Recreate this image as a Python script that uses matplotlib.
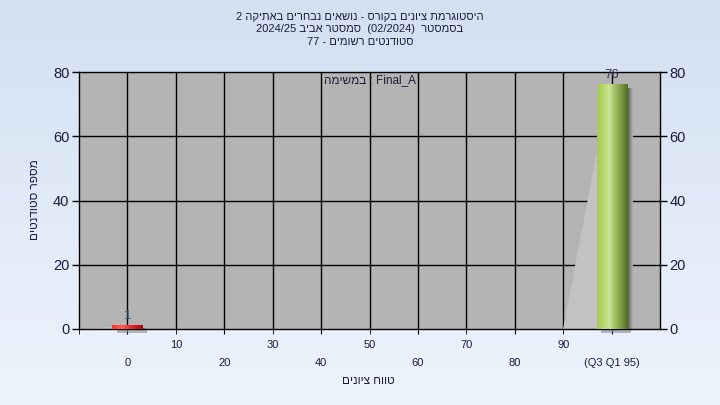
import re
import numpy as np
import matplotlib
matplotlib.use('Agg')
import matplotlib.pyplot as plt
from matplotlib.patches import Polygon, Rectangle
from matplotlib.colors import LinearSegmentedColormap

plt.rcParams['font.family'] = ['Liberation Sans', 'DejaVu Sans']

# ---------------- data ----------------
categories = ["0", "10", "20", "30", "40", "50", "60", "70", "80", "90", "(Q3 Q1 95)"]
counts = [1, 0, 0, 0, 0, 0, 0, 0, 0, 0, 76]
y_ticks = [0, 20, 40, 60, 80]
title_lines = [
    "היסטוגרמת ציונים בקורס - נושאים נבחרים באתיקה 2",
    "בסמסטר  (02/2024)  סמסטר אביב 2024/25",
    "סטודנטים רשומים - 77",
]
legend_text = "Final_A : במשימה"
x_label = "טווח ציונים"
y_label = "מספר סטודנטים"


def vis(s):
    """Convert a logical RTL string into visual (left-to-right) order."""
    r = s[::-1]
    r = re.sub(r'[A-Za-z0-9_/.]+', lambda m: m.group(0)[::-1], r)
    return r.translate(str.maketrans('()', ')('))


TXT = '#1c1c3c'
W, H = 720, 405
fig = plt.figure(figsize=(W / 100, H / 100), dpi=100)

# background gradient
bg = fig.add_axes([0, 0, 1, 1], zorder=-10)
bg_cmap = LinearSegmentedColormap.from_list('bg', ['#d3e0f2', '#eef4fd'])
bg.imshow(np.linspace(0, 1, 256).reshape(-1, 1), cmap=bg_cmap, aspect='auto',
          extent=[0, 1, 0, 1])
bg.set_axis_off()

x0, x1, y0, y1 = 79, 660, 72, 329
ax = fig.add_axes([x0 / W, 1 - y1 / H, (x1 - x0) / W, (y1 - y0) / H])
ax.set_facecolor('#b4b4b4')

n = len(categories)
pos = np.arange(1, n + 1)
ax.set_xlim(0, n + 1)
ax.set_ylim(0, 80)

# grid
ax.set_yticks(y_ticks)
ax.set_yticklabels([str(v) for v in y_ticks], fontsize=10.5, color=TXT)
for v in y_ticks[1:-1]:
    ax.axhline(v, color='black', lw=1, zorder=1)
for p in pos:
    ax.axvline(p, color='black', lw=1, zorder=1)

bw = 0.62
green = LinearSegmentedColormap.from_list('g', ['#a3cc4e', '#b6d870', '#cce59a', '#9ebb62', '#7a9640', '#4e6a26'])
red = LinearSegmentedColormap.from_list('r', ['#ff3030', '#ff5a5a', '#e02020', '#a80c0c'])
grad = np.linspace(0, 1, 128).reshape(1, -1)
shadow_cmap = LinearSegmentedColormap.from_list('s', ['#505050', '#b4b4b4'])

for i, (p, c) in enumerate(zip(pos, counts)):
    if c <= 0:
        continue
    left = p - bw / 2
    # light wedge reflection
    ax.add_patch(Polygon([[left - 0.69, 0], [left, 0], [left, c * 0.73]],
                         closed=True, facecolor='#c2c2c2', edgecolor='none', zorder=2))
    # right shadow
    ax.imshow(grad, cmap=shadow_cmap, aspect='auto',
              extent=[p + bw / 2, p + bw / 2 + 0.12, 0, max(c - 1.2, 0.3)], zorder=2.5)
    # bottom shadow (below axis)
    ax.add_patch(Rectangle((left + 0.1, -1.3), bw, 0.9, facecolor='#8c8c8c',
                           edgecolor='none', zorder=2, clip_on=False, alpha=0.6))
    cmap = red if i == 0 else green
    ax.imshow(grad, cmap=cmap, aspect='auto', extent=[left, p + bw / 2, 0, c], zorder=3)
    ax.annotate(str(c), (p, c), xytext=(0, 3), textcoords='offset points',
                ha='center', va='bottom', fontsize=9.5,
                color='#2e5a78' if i == 0 else '#2a3050', zorder=5)

ax.set_xlim(0, n + 1)
ax.set_ylim(0, 80)

# x tick labels in two rows
ax.set_xticks(pos[0::2], categories[0::2])
ax.set_xticks(np.concatenate([[0], pos[1::2]]), [''] + categories[1::2], minor=True)
ax.tick_params(axis='x', which='major', length=3.5, pad=17.5, labelsize=8, labelcolor=TXT)
ax.tick_params(axis='x', which='minor', length=3.5, pad=4.5, labelsize=8, labelcolor=TXT)
ax.tick_params(axis='y', length=5, width=1, pad=2)
for s in ax.spines.values():
    s.set_color('black')
    s.set_linewidth(1)

ax2 = ax.twinx()
ax2.set_ylim(0, 80)
ax2.set_yticks(y_ticks)
ax2.set_yticklabels([str(v) for v in y_ticks], fontsize=10.5, color=TXT)
ax2.tick_params(axis='y', length=5, width=1, pad=2)
for s in ax2.spines.values():
    s.set_visible(False)

# legend text
ax.text(6, 77.5, vis(legend_text), ha='center', va='center', fontsize=8.5,
        color=TXT, zorder=6)

# titles
for k, line in enumerate(title_lines):
    fig.text(360 / W, 1 - (17 + 12.5 * k) / H, vis(line), ha='center', va='center',
             fontsize=8, color=TXT)

fig.text(368 / W, 1 - 381 / H, vis(x_label), ha='center', va='center',
         fontsize=8.5, color=TXT)
fig.text(35 / W, 1 - 200 / H, vis(y_label), ha='center', va='center',
         fontsize=8.5, color=TXT, rotation=90)

fig.savefig('out.png', dpi=100)
